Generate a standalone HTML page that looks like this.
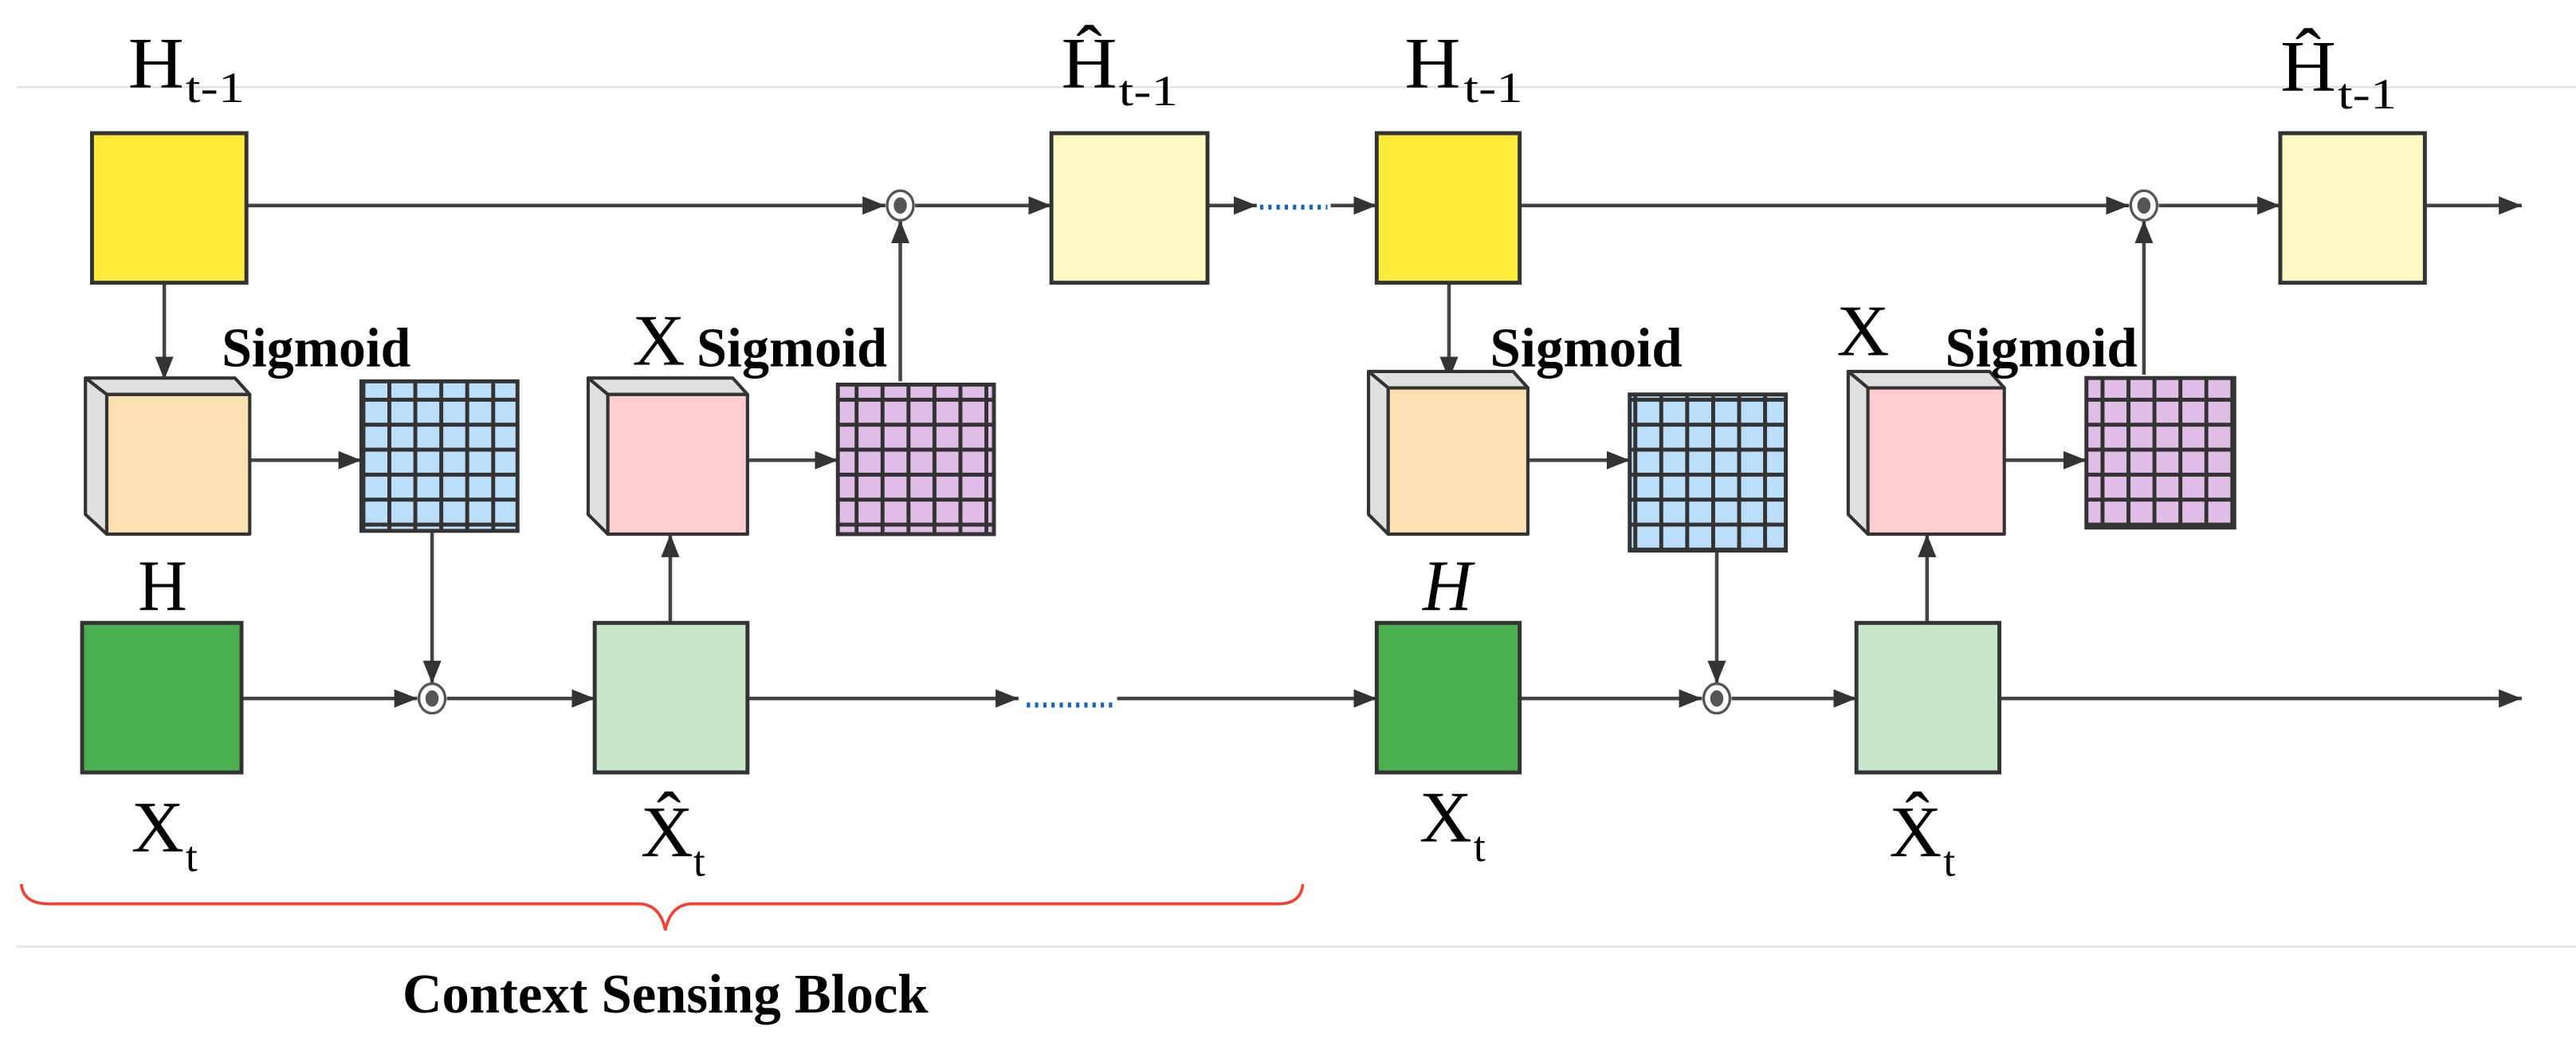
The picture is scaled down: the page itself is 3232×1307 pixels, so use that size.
<!DOCTYPE html>
<html><head><meta charset="utf-8"><style>
html,body{margin:0;padding:0;background:#fff}
svg{display:block}
text{font-family:"Liberation Serif",serif;fill:#000}
.b{font-weight:bold}
</style></head><body>
<svg width="3232" height="1307" viewBox="0 0 1568 634" xmlns="http://www.w3.org/2000/svg">
<defs>
<marker id="a" viewBox="0 0 10 10" refX="10" refY="5" markerWidth="14" markerHeight="14" markerUnits="userSpaceOnUse" orient="auto">
<path d="M0,1 L10,5 L0,9 z" fill="#333"/></marker>
<pattern id="gb" width="15.8" height="15.2" patternUnits="userSpaceOnUse"><rect width="15.8" height="15.2" fill="#bbdefb" stroke="#333" stroke-width="2.4"/></pattern>
<pattern id="gp" width="15.8" height="15.2" patternUnits="userSpaceOnUse"><rect width="15.8" height="15.2" fill="#e1bee7" stroke="#333" stroke-width="2.4"/></pattern>
</defs>
<line x1="10" y1="53" x2="1568" y2="53" stroke="#ddd" stroke-width="1"/>
<line x1="10" y1="576" x2="1568" y2="576" stroke="#ddd" stroke-width="1"/>
<g stroke="#444" stroke-width="2.2" fill="none">
<line x1="150" y1="125" x2="539" y2="125" marker-end="url(#a)"/>
<line x1="557" y1="125" x2="640" y2="125" marker-end="url(#a)"/>
<line x1="735" y1="125" x2="765" y2="125" marker-end="url(#a)"/>
<line x1="810" y1="125" x2="838" y2="125" marker-end="url(#a)"/>
<line x1="100" y1="172" x2="100" y2="231" marker-end="url(#a)"/>
<line x1="152" y1="280" x2="220" y2="280" marker-end="url(#a)"/>
<line x1="263" y1="323" x2="263" y2="416" marker-end="url(#a)"/>
<line x1="147" y1="425" x2="254" y2="425" marker-end="url(#a)"/>
<line x1="272" y1="425" x2="362" y2="425" marker-end="url(#a)"/>
<line x1="408" y1="378" x2="408" y2="325" marker-end="url(#a)"/>
<line x1="455" y1="280" x2="510" y2="280" marker-end="url(#a)"/>
<line x1="548" y1="232" x2="548" y2="134" marker-end="url(#a)"/>
<line x1="455" y1="425" x2="620" y2="425" marker-end="url(#a)"/>
<line x1="680" y1="425" x2="838" y2="425" marker-end="url(#a)"/>
<line x1="925" y1="125" x2="1296" y2="125" marker-end="url(#a)"/>
<line x1="1314" y1="125" x2="1388" y2="125" marker-end="url(#a)"/>
<line x1="1476" y1="125" x2="1535" y2="125" marker-end="url(#a)"/>
<line x1="882" y1="172" x2="882" y2="231" marker-end="url(#a)"/>
<line x1="930" y1="280" x2="992" y2="280" marker-end="url(#a)"/>
<line x1="1045" y1="335" x2="1045" y2="416" marker-end="url(#a)"/>
<line x1="925" y1="425" x2="1036" y2="425" marker-end="url(#a)"/>
<line x1="1054" y1="425" x2="1130" y2="425" marker-end="url(#a)"/>
<line x1="1173" y1="378" x2="1173" y2="325" marker-end="url(#a)"/>
<line x1="1220" y1="280" x2="1270" y2="280" marker-end="url(#a)"/>
<line x1="1305" y1="228" x2="1305" y2="134" marker-end="url(#a)"/>
<line x1="1217" y1="425" x2="1535" y2="425" marker-end="url(#a)"/>
</g>
<g stroke="#1565c0" stroke-width="3" stroke-dasharray="2,3">
<line x1="767" y1="126" x2="808" y2="126"/>
<line x1="625" y1="429" x2="678" y2="429"/>
</g>
<g stroke="#555" stroke-width="1.6" fill="#fff">
<ellipse cx="548" cy="125" rx="8" ry="9"/><ellipse cx="263" cy="425" rx="8" ry="9"/>
<ellipse cx="1305" cy="125" rx="8" ry="9"/><ellipse cx="1045" cy="425" rx="8" ry="9"/>
</g>
<g fill="#555"><ellipse cx="548" cy="125" rx="4" ry="5"/><ellipse cx="263" cy="425" rx="4" ry="5"/><ellipse cx="1305" cy="125" rx="4" ry="5"/><ellipse cx="1045" cy="425" rx="4" ry="5"/></g>
<g stroke="#333" stroke-width="2.4">
<rect x="56" y="81" width="94" height="91" fill="#ffeb3b"/>
<rect x="640" y="81" width="95" height="91" fill="#fff9c4"/>
<rect x="838" y="81" width="87" height="91" fill="#ffeb3b"/>
<rect x="1388" y="81" width="88" height="91" fill="#fff9c4"/>
<rect x="50" y="379" width="97" height="91" fill="#4caf50"/>
<rect x="362" y="379" width="93" height="91" fill="#c8e6c9"/>
<rect x="838" y="379" width="87" height="91" fill="#4caf50"/>
<rect x="1130" y="379" width="87" height="91" fill="#c8e6c9"/>
</g>
<g stroke="#333" stroke-width="2" stroke-linejoin="round">
<path d="M52,230 L143,230 L152,240 L65,240 Z" fill="#e0e0e0"/><path d="M52,230 L65,240 L65,325 L52,313 Z" fill="#e0e0e0"/><rect x="65" y="240" width="87" height="85" fill="#ffe0b2"/>
<path d="M358,230 L446,230 L455,240 L370,240 Z" fill="#e0e0e0"/><path d="M358,230 L370,240 L370,325 L358,313 Z" fill="#e0e0e0"/><rect x="370" y="240" width="85" height="85" fill="#ffcdd2"/>
<path d="M833,226 L921,226 L930,236 L845,236 Z" fill="#e0e0e0"/><path d="M833,226 L845,236 L845,325 L833,313 Z" fill="#e0e0e0"/><rect x="845" y="236" width="85" height="89" fill="#ffe0b2"/>
<path d="M1125,226 L1211,226 L1220,236 L1137,236 Z" fill="#e0e0e0"/><path d="M1125,226 L1137,236 L1137,325 L1125,313 Z" fill="#e0e0e0"/><rect x="1137" y="236" width="83" height="89" fill="#ffcdd2"/>
</g>
<g stroke="#333" stroke-width="2.4">
<rect x="220" y="232" width="95" height="91" fill="url(#gb)"/>
<rect x="510" y="234" width="95" height="91" fill="url(#gp)"/>
<rect x="992" y="240" width="95" height="95" fill="url(#gb)"/>
<rect x="1270" y="230" width="90" height="91" fill="url(#gp)"/>
</g>
<g font-size="44">
<text x="78" y="53" textLength="34" lengthAdjust="spacingAndGlyphs">H</text><text x="113" y="62" font-size="26" textLength="36" lengthAdjust="spacingAndGlyphs">t-1</text>
<text x="646" y="53" textLength="34" lengthAdjust="spacingAndGlyphs">Ĥ</text><text x="681" y="64" font-size="26" textLength="36" lengthAdjust="spacingAndGlyphs">t-1</text>
<text x="855" y="53" textLength="34" lengthAdjust="spacingAndGlyphs">H</text><text x="891" y="62" font-size="26" textLength="36" lengthAdjust="spacingAndGlyphs">t-1</text>
<text x="1388" y="55" textLength="34" lengthAdjust="spacingAndGlyphs">Ĥ</text><text x="1423" y="66" font-size="26" textLength="36" lengthAdjust="spacingAndGlyphs">t-1</text>
<text x="84" y="371" textLength="30" lengthAdjust="spacingAndGlyphs">H</text>
<text x="866" y="371" font-style="italic" textLength="30" lengthAdjust="spacingAndGlyphs">H</text>
<text x="80" y="518" textLength="32" lengthAdjust="spacingAndGlyphs">X</text><text x="113" y="530" font-size="26">t</text>
<text x="390" y="521" textLength="32" lengthAdjust="spacingAndGlyphs">X̂</text><text x="422" y="533" font-size="26">t</text>
<text x="864" y="512" textLength="32" lengthAdjust="spacingAndGlyphs">X</text><text x="897" y="524" font-size="26">t</text>
<text x="1150" y="521" textLength="32" lengthAdjust="spacingAndGlyphs">X̂</text><text x="1183" y="533" font-size="26">t</text>
<text x="385" y="222" textLength="32" lengthAdjust="spacingAndGlyphs">X</text>
<text x="1118" y="216" textLength="32" lengthAdjust="spacingAndGlyphs">X</text>
</g>
<g font-size="34">
<text x="135" y="223" class="b" textLength="115" lengthAdjust="spacingAndGlyphs">Sigmoid</text>
<text x="424" y="223" class="b" textLength="116" lengthAdjust="spacingAndGlyphs">Sigmoid</text>
<text x="907" y="223" class="b" textLength="117" lengthAdjust="spacingAndGlyphs">Sigmoid</text>
<text x="1184" y="223" class="b" textLength="117" lengthAdjust="spacingAndGlyphs">Sigmoid</text>
<text x="245" y="616" class="b" textLength="320" lengthAdjust="spacingAndGlyphs">Context Sensing Block</text>
</g>
<path d="M13,538 Q14,550 30,550 L390,550 Q402,551 405,566 Q408,551 420,550 L778,550 Q792,550 793,538" stroke="#f44336" stroke-width="1.8" fill="none"/>
</svg>
</body></html>
